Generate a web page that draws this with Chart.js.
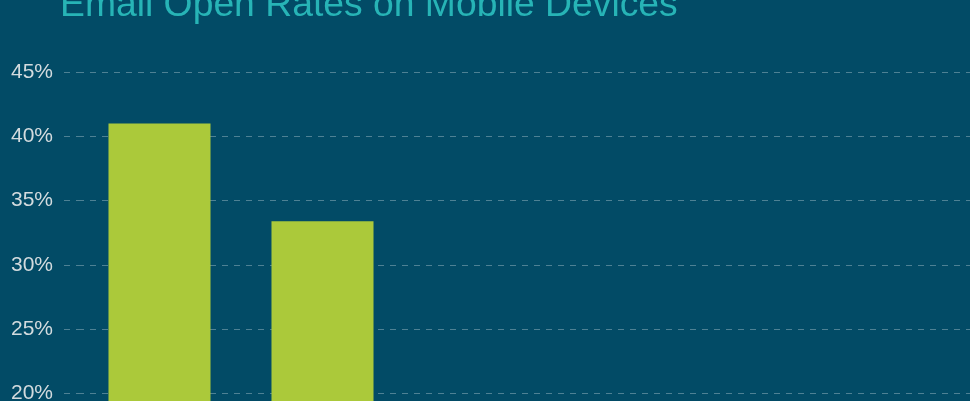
<!DOCTYPE html>
<html>
<head>
<meta charset="utf-8">
<title>Email Open Rates on Mobile Devices</title>
<script src="https://cdn.jsdelivr.net/npm/chart.js@4.4.1/dist/chart.umd.min.js"></script>
<style>
  html, body { margin: 0; padding: 0; background: #024b66; overflow: hidden; }
  #wrap { position: absolute; left: 0; top: 0; width: 1056px; height: 691px; }
</style>
</head>
<body>
<div id="wrap"><canvas id="myChart" width="1056" height="691"></canvas></div>
<script>
// dati del grafico
const titolo = 'Email Open Rates on Mobile Devices';
const dispositivi = ['iPhone', 'iPad', 'Android', 'BlackBerry', 'Windows Phone', 'Other'];
const aperture = [41.0, 33.4, 17.6, 4.3, 1.2, 2.5];   // percentuale aperture
const tickY = [0, 5, 10, 15, 20, 25, 30, 35, 40, 45];

// colori
const sfondo = '#024b66';
const verde = '#abc93a';
const teal = '#27b4b6';
const grigio = '#d3dbde';
const griglia = 'rgba(255,255,255,0.3)';

// titolo disegnato a mano, allineato a sinistra
const TitlePlugin = {
  id: 'titolo',
  afterDraw: (chart) => {
    const { ctx } = chart;
    ctx.save();
    ctx.font = '37.3px "Liberation Sans", Arial, sans-serif';
    ctx.fillStyle = teal;
    ctx.textAlign = 'left';
    ctx.textBaseline = 'alphabetic';
    ctx.fillText(titolo, 60, 16);
    ctx.restore();
  }
};

const ctx = document.getElementById('myChart');

new Chart(ctx, {
  type: 'bar',
  data: {
    labels: dispositivi,
    datasets: [{
      data: aperture,
      backgroundColor: verde,
      borderWidth: 0,
      categoryPercentage: 1,
      barPercentage: 0.626
    }]
  },
  options: {
    responsive: false,
    animation: false,
    layout: { padding: { top: 72, left: 0, right: 0, bottom: 0 } },
    plugins: {
      legend: { display: false },
      tooltip: { enabled: false },
      title: { display: false }
    },
    scales: {
      x: {
        grid: { display: false },
        border: { display: false },
        ticks: {
          color: grigio,
          font: { family: '"Liberation Sans", Arial, sans-serif', size: 21 }
        },
        afterFit: (s) => { s.height = 40; }
      },
      y: {
        min: tickY[0],
        max: tickY[tickY.length - 1],
        afterBuildTicks: (s) => { s.ticks = tickY.map(v => ({ value: v })); },
        // in v4 il tratteggio della griglia sta in border.dash
        border: { display: false, dash: [6, 6] },
        grid: {
          color: griglia,
          lineWidth: 1,
          drawTicks: true,
          tickLength: 14,
          tickColor: griglia,
          tickBorderDash: [6, 6]
        },
        ticks: {
          color: grigio,
          padding: 11,
          font: { family: '"Liberation Sans", Arial, sans-serif', size: 21 },
          callback: (v) => v + '%'
        },
        afterFit: (s) => { s.width = 78; }
      }
    }
  },
  plugins: [TitlePlugin]
});
</script>
</body>
</html>
